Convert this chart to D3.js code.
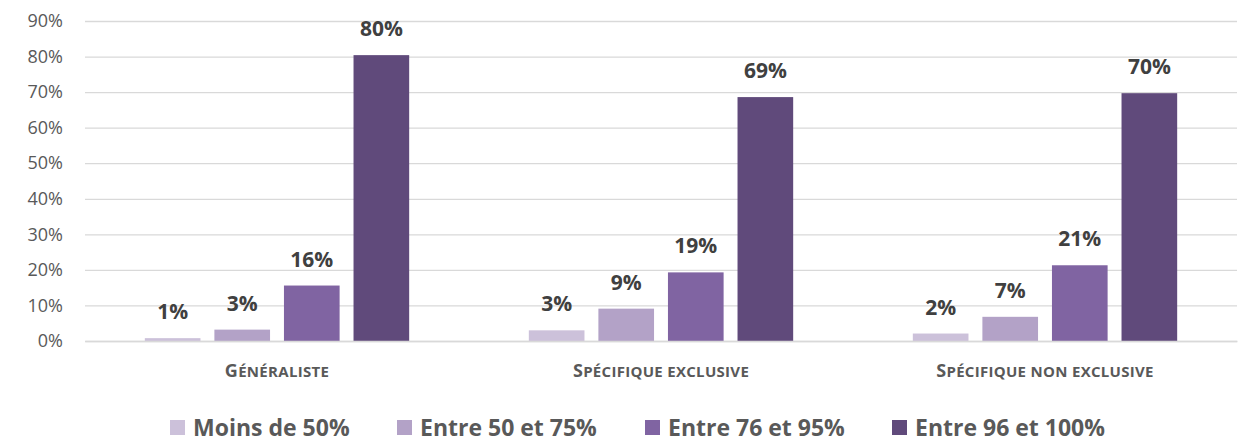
<!DOCTYPE html>
<html><head><meta charset="utf-8">
<script src="https://cdn.jsdelivr.net/npm/d3@7"></script>
<style>body{margin:0;background:#fff}svg{display:block}text{font-family:"Open Sans",sans-serif}</style>
</head><body>
<svg id="c" width="1256" height="447"></svg>
<script>
const categories = ["Généraliste", "Spécifique exclusive", "Spécifique non exclusive"];
const seriesNames = ["Moins de 50%", "Entre 50 et 75%", "Entre 76 et 95%", "Entre 96 et 100%"];
const moins50 = [0.8, 3.0, 2.1];
const entre50_75 = [3.2, 9.1, 6.8];
const entre76_95 = [15.6, 19.3, 21.3];
const entre96_100 = [80.4, 68.6, 69.7];
const labels = [["1%","3%","2%"],["3%","9%","7%"],["16%","19%","21%"],["80%","69%","70%"]];
const yTicks = [0,10,20,30,40,50,60,70,80,90];
const colors = ["#ccc1da","#b3a2c7","#8064a2","#604a7b"];
const series = [moins50, entre50_75, entre76_95, entre96_100];
const FONT = "'Open Sans',sans-serif";

const svg = d3.select("#c");
const x0 = d3.scaleBand().domain(categories).range([85, 1237]).paddingInner(0).paddingOuter(0);
const x1 = d3.scaleBand().domain(d3.range(4)).range([0, x0.bandwidth()]).paddingInner(0.2).paddingOuter(0.86);
const y = d3.scaleLinear().domain([0, 90]).range([341, 21]);

const yAxis = svg.append("g").attr("transform","translate(85,0)")
  .call(d3.axisLeft(y).tickValues(yTicks).tickFormat(d => d + "%").tickSize(-1152).tickPadding(22));
yAxis.select(".domain").remove();
yAxis.selectAll("line").attr("stroke","#d9d9d9").attr("stroke-width",1.3);
yAxis.selectAll("text").attr("fill","#595959").style("font-size","18px").style("font-family",FONT);

const groups = svg.append("g").selectAll("g").data(categories).join("g")
  .attr("transform", d => `translate(${x0(d)},0)`);
series.forEach((vals, si) => {
  groups.append("rect")
    .attr("x", x1(si)).attr("width", x1.bandwidth())
    .attr("y", (d,ci) => y(vals[ci])).attr("height", (d,ci) => y(0) - y(vals[ci]))
    .attr("fill", colors[si]);
  groups.append("text")
    .attr("x", x1(si) + x1.bandwidth()/2).attr("y", (d,ci) => y(vals[ci]) - 19)
    .attr("text-anchor","middle").attr("fill","#404040")
    .style("font-size","21px").style("font-weight","bold").style("font-family",FONT)
    .text((d,ci) => labels[si][ci]);
});

const xAxis = svg.append("g").attr("transform","translate(0,341)")
  .call(d3.axisBottom(x0).tickSize(0).tickPadding(29));
xAxis.select(".domain").attr("stroke","#d9d9d9").attr("stroke-width",1.3);
xAxis.selectAll("text").each(function(d) {
  const t = d3.select(this).text("").attr("fill","#595959")
    .style("font-weight","bold").style("font-family",FONT).style("letter-spacing","0.3px");
  t.append("tspan").style("font-size","18px").text(d.charAt(0).toUpperCase());
  t.append("tspan").style("font-size","15px").text(d.slice(1).toUpperCase());
});

const legendX = [170, 397, 645, 892];
const lg = svg.append("g").selectAll("g").data(seriesNames).join("g")
  .attr("transform", (d,i) => `translate(${legendX[i]},420)`);
lg.append("rect").attr("width",15).attr("height",15).attr("fill",(d,i)=>colors[i]);
lg.append("text").attr("x",23).attr("y",16).attr("fill","#595959")
  .style("font-size","23px").style("font-weight","bold").style("font-family",FONT).text(d => d);
</script>
</body></html>
